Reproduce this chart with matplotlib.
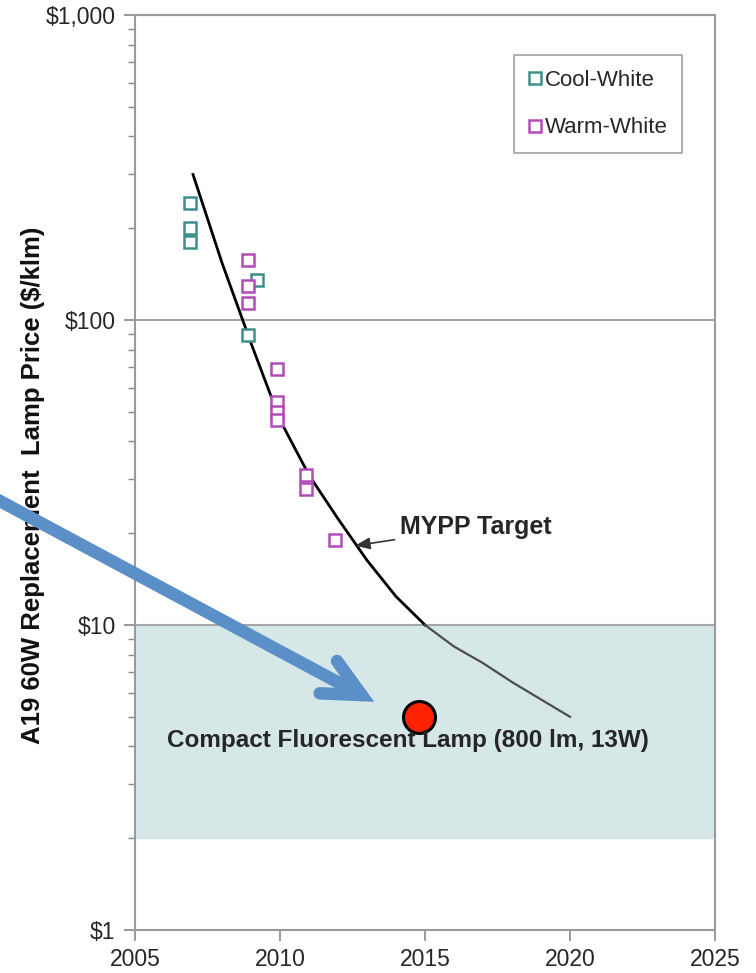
import numpy as np
import matplotlib
matplotlib.use("Agg")
import matplotlib.pyplot as plt
from matplotlib.ticker import FixedLocator, FuncFormatter, NullFormatter

plt.rcParams["font.family"] = ["Liberation Sans", "DejaVu Sans"]

# Measured lamp prices ($/klm)
cool_years = [2006.9, 2006.9, 2006.9, 2009.2, 2008.9]
cool_price = [242, 200, 180, 135, 89]
warm_years = [2008.9, 2008.9, 2008.9, 2009.9, 2009.9, 2009.9, 2009.9, 2010.9, 2010.9, 2011.9]
warm_price = [157, 129, 114, 69, 54, 50, 47, 31, 28, 19]

# MYPP target curve
target_years = [2007, 2008, 2009, 2010, 2011, 2012, 2013, 2014, 2015]
target_price = [300, 154, 84, 47, 31, 22.3, 16.3, 12.4, 10]
target_ext_years = [2015, 2016, 2017, 2018, 2019, 2020]
target_ext_price = [10, 8.5, 7.5, 6.5, 5.7, 5.0]

# compact fluorescent reference
cfl_year = [2014.8]
cfl_price = [5.0]
cfl_band = (2, 10)

x_ticks = [2005, 2010, 2015, 2020, 2025]
y_ticks = [1, 10, 100, 1000]
y_labels = ["$1", "$10", "$100", "$1,000"]

COOL = "#3e8e8c"
WARM = "#b04cb6"
GRID = "#a6a6a6"
TXT = "#262626"

fig = plt.figure(figsize=(7.56, 9.73), dpi=100)
ax = fig.add_axes([135 / 756, 1 - 930 / 973, 580 / 756, 915 / 973])

ax.set_yscale("log")
ax.set_xlim(2005, 2025)
ax.set_ylim(1, 1000)

ax.axhspan(cfl_band[0], cfl_band[1], color="#d6e7e7", zorder=0)
for v in y_ticks[1:]:
    ax.axhline(v, color=GRID, lw=1.5, zorder=1)

ax.plot(target_years, target_price, color="black", lw=2, zorder=3)
ax.plot(target_ext_years, target_ext_price, color="#4d4d4d", lw=1.6, zorder=3)

ax.plot(cool_years, cool_price, ls="none", marker="s", ms=8.5, mfc="white",
        mec=COOL, mew=1.8, label="Cool-White", zorder=4)
ax.plot(warm_years, warm_price, ls="none", marker="s", ms=8.5, mfc="white",
        mec=WARM, mew=1.8, label="Warm-White", zorder=4)

ax.plot(cfl_year, cfl_price, ls="none", marker="o", ms=23, mfc="#ff2200",
        mec="black", mew=2.2, zorder=6)

ax.text(2014.41, 4.17, "Compact Fluorescent Lamp (800 lm, 13W)", ha="center",
        va="center", fontsize=17.5, fontweight="bold", color=TXT, zorder=7)

ax.annotate("MYPP Target", xy=(2012.59, 18.2), xytext=(2014.14, 20.9),
            ha="left", va="center", fontsize=18, fontweight="bold", color=TXT,
            arrowprops=dict(arrowstyle="-|>,head_length=0.5,head_width=0.2",
                            color="#333333", lw=1.2, shrinkA=2, shrinkB=0))

# big blue pointer arrow coming from outside the axes
ax.annotate("", xy=(2013.25, 5.6), xycoords="data",
            xytext=(-0.01, 1 - 497 / 973), textcoords="figure fraction",
            arrowprops=dict(arrowstyle="->,head_length=0.68,head_width=0.33",
                            color="#5b8fc8", lw=9, mutation_scale=40,
                            shrinkA=0, shrinkB=0, capstyle="round",
                            joinstyle="miter"),
            annotation_clip=False, zorder=8)

ax.yaxis.set_major_locator(FixedLocator(y_ticks))
ax.yaxis.set_major_formatter(FuncFormatter(lambda v, p: y_labels[y_ticks.index(int(round(v)))] if int(round(v)) in y_ticks else ""))
ax.yaxis.set_minor_formatter(NullFormatter())
ax.set_xticks(x_ticks)

ax.tick_params(axis="both", which="major", direction="out", length=8,
               width=1.2, color="#888888", labelcolor=TXT)
ax.tick_params(axis="y", which="major", labelsize=16.5, pad=6)
ax.tick_params(axis="x", which="major", labelsize=16.5, pad=5)
ax.tick_params(axis="y", which="minor", direction="out", length=5,
               width=1.0, color="#888888")

for s in ax.spines.values():
    s.set_color("#9a9a9a")
    s.set_linewidth(1.5)

ax.set_ylabel("A19 60W Replacement  Lamp Price ($/klm)", fontsize=18.5,
              fontweight="bold", color="#111111")
ax.yaxis.set_label_coords(-0.155, 0.486)

leg = ax.legend(loc="upper right", bbox_to_anchor=(0.943, 0.956),
                fontsize=16, frameon=True, fancybox=False, labelspacing=1.2,
                handlelength=0.6, handletextpad=0.15, borderpad=0.65,
                borderaxespad=0, markerscale=1.0)
leg.get_frame().set_edgecolor("#8a8a8a")
leg.get_frame().set_linewidth(1.2)
for t in leg.get_texts():
    t.set_color(TXT)

fig.savefig("out.png", dpi=100)
